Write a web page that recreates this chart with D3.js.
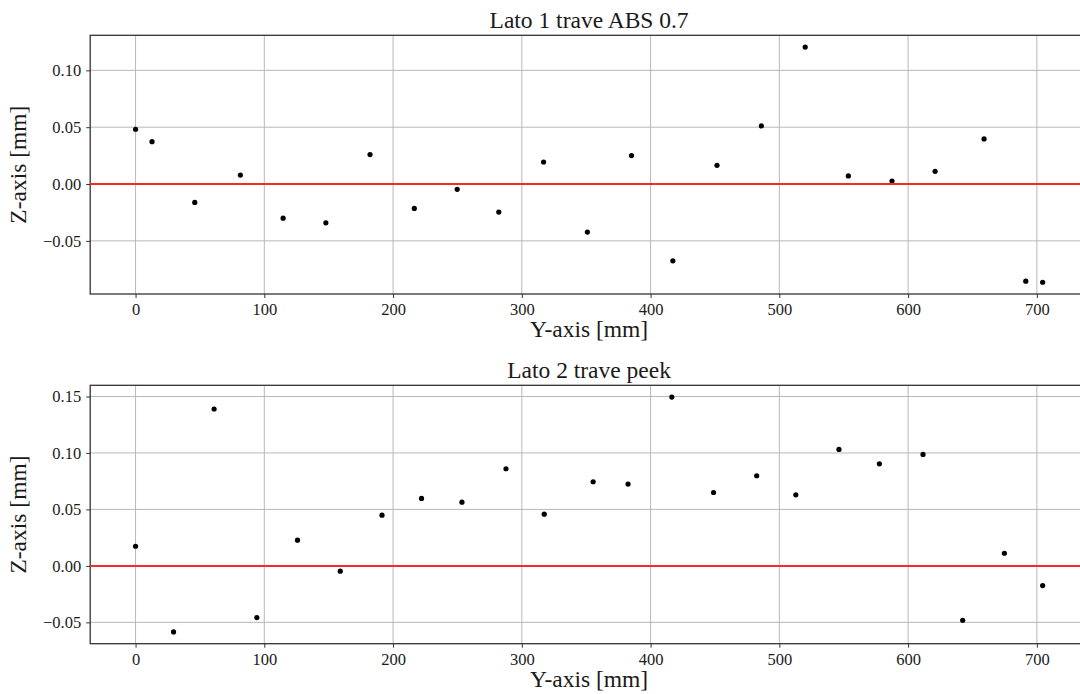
<!DOCTYPE html>
<html>
<head>
<meta charset="utf-8">
<script src="https://cdn.jsdelivr.net/npm/d3@7"></script>
<style>
  html, body { margin: 0; padding: 0; background: #fff; }
  svg { display: block; }
  text { font-family: "Liberation Serif", "Times New Roman", serif; fill: #1a1a1a; }
</style>
</head>
<body>
<svg id="chart" width="1080" height="694"></svg>
<script>
// Lato 1 – trave ABS 0.7 : position along Y [mm] and deviation along Z [mm]
const side1Y = [0, 12.8, 46.0, 81.4, 114.6, 147.8, 182.1, 216.5, 249.8, 282.1, 316.9, 350.9,
                385.2, 417.3, 451.6, 486.1, 520.1, 553.6, 587.5, 621.0, 659.0, 691.4, 704.5];
const side1Z = [0.0482, 0.0373, -0.0162, 0.0079, -0.0300, -0.0341, 0.0259, -0.0215, -0.0047, -0.0247, 0.0194, -0.0423,
                0.0250, -0.0676, 0.0165, 0.0511, 0.1205, 0.0071, 0.0026, 0.0112, 0.0397, -0.0855, -0.0864];

// Lato 2 – trave peek
const side2Y = [0, 29.5, 61.0, 94.2, 125.8, 159.0, 191.4, 222.1, 253.5, 287.7, 317.4, 355.4,
                382.5, 416.5, 448.9, 482.4, 512.8, 546.3, 577.7, 611.6, 642.4, 674.8, 704.5];
const side2Z = [0.0174, -0.0585, 0.1389, -0.0458, 0.0228, -0.0047, 0.0449, 0.0597, 0.0564, 0.0860, 0.0458, 0.0745,
                0.0724, 0.1495, 0.0650, 0.0798, 0.0629, 0.1031, 0.0904, 0.0987, -0.0482, 0.0112, -0.0174];

const xTicks = [0, 100, 200, 300, 400, 500, 600, 700];
const side1ZTicks = [-0.05, 0.00, 0.05, 0.10];
const side2ZTicks = [-0.05, 0.00, 0.05, 0.10, 0.15];

const titles = ["Lato 1 trave ABS 0.7", "Lato 2 trave peek"];
const xLabel = "Y-axis [mm]";
const yLabel = "Z-axis [mm]";

const SERIF = '"Liberation Serif", "Times New Roman", serif';
const svg = d3.select("#chart");

// extent padded by 5% on each side
function padded(values) {
  const [lo, hi] = d3.extent(values);
  const pad = (hi - lo) * 0.05;
  return [lo - pad, hi + pad];
}

const fmtTick = v => d3.format(".2f")(v).replace("-", "\u2212");

function panel(cfg) {
  const { left, right, top, bottom, ys, zs, zTicks, title } = cfg;
  const g = svg.append("g");

  const x = d3.scaleLinear().domain(padded(ys)).range([left, right]);
  const y = d3.scaleLinear().domain(padded(zs)).range([bottom, top]);

  // grid
  g.append("g").selectAll("line").data(xTicks).join("line")
    .attr("x1", d => x(d)).attr("x2", d => x(d))
    .attr("y1", top).attr("y2", bottom)
    .attr("stroke", "#b8b8b8").attr("stroke-width", 1);
  g.append("g").selectAll("line").data(zTicks).join("line")
    .attr("x1", left).attr("x2", right)
    .attr("y1", d => y(d)).attr("y2", d => y(d))
    .attr("stroke", "#b8b8b8").attr("stroke-width", 1);

  // axes
  const xAxis = d3.axisBottom(x).tickValues(xTicks).tickSize(4).tickPadding(5).tickFormat(d3.format("d"));
  const yAxis = d3.axisLeft(y).tickValues(zTicks).tickSize(4).tickPadding(5).tickFormat(fmtTick);

  const gx = g.append("g").attr("transform", `translate(0,${bottom})`).call(xAxis);
  const gy = g.append("g").attr("transform", `translate(${left},0)`).call(yAxis);
  [gx, gy].forEach(a => {
    a.attr("font-family", SERIF).attr("font-size", 16.5);
    a.select(".domain").remove();
    a.selectAll(".tick line").attr("stroke", "#333").attr("stroke-width", 1);
    a.selectAll(".tick text").attr("fill", "#1a1a1a");
  });
  gx.selectAll(".tick text").attr("dy", null).attr("y", 21);

  // frame
  g.append("rect")
    .attr("x", left).attr("y", top)
    .attr("width", right - left).attr("height", bottom - top)
    .attr("fill", "none").attr("stroke", "#333").attr("stroke-width", 1.3);

  // measurements
  g.append("g").selectAll("circle").data(d3.zip(ys, zs)).join("circle")
    .attr("cx", d => x(d[0])).attr("cy", d => y(d[1]))
    .attr("r", 2.6).attr("fill", "#000");

  // zero reference
  g.append("line")
    .attr("x1", left).attr("x2", right)
    .attr("y1", y(0)).attr("y2", y(0))
    .attr("stroke", "#f22b2b").attr("stroke-width", 2);

  // texts
  const cx = (left + right) / 2;
  g.append("text").attr("x", cx).attr("y", top - 7.5)
    .attr("text-anchor", "middle").attr("font-size", 23.5).text(title);
  g.append("text").attr("x", cx).attr("y", bottom + 43)
    .attr("text-anchor", "middle").attr("font-size", 23.5).text(xLabel);
  g.append("text")
    .attr("transform", `translate(26,${(top + bottom) / 2}) rotate(-90)`)
    .attr("text-anchor", "middle").attr("font-size", 23.5).text(yLabel);
}

panel({ left: 90.2, right: 1088, top: 35.3, bottom: 294, ys: side1Y, zs: side1Z, zTicks: side1ZTicks, title: titles[0] });
panel({ left: 90.2, right: 1088, top: 385.3, bottom: 643.7, ys: side2Y, zs: side2Z, zTicks: side2ZTicks, title: titles[1] });
</script>
</body>
</html>
